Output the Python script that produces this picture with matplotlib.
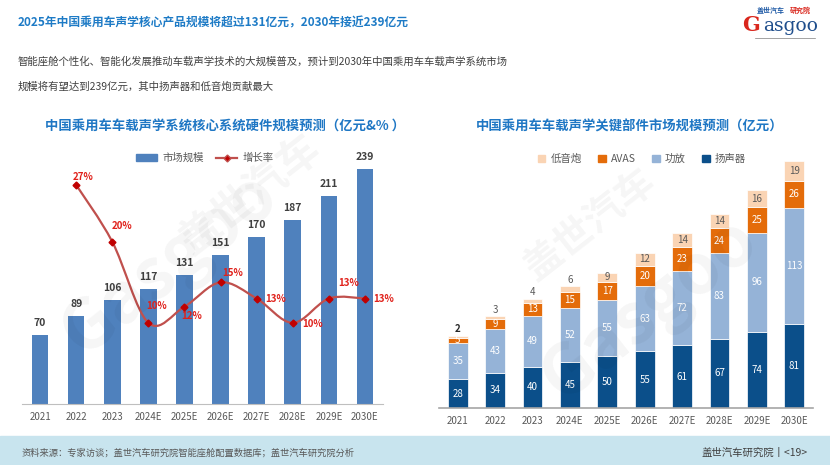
import matplotlib.pyplot as plt
from matplotlib.path import Path
from matplotlib.patches import PathPatch, Patch, Rectangle
from matplotlib.lines import Line2D
import numpy as np

plt.rcParams['font.family'] = ['Noto Sans CJK SC', 'DejaVu Sans']

# data
years = ['2021', '2022', '2023', '2024E', '2025E', '2026E', '2027E', '2028E', '2029E', '2030E']
market = [70, 89, 106, 117, 131, 151, 170, 187, 211, 239]
growth_years = years[1:]
growth = [27, 20, 10, 12, 15, 13, 10, 13, 13]

speaker = [28, 34, 40, 45, 50, 55, 61, 67, 74, 81]
amp = [35, 43, 49, 52, 55, 63, 72, 83, 96, 113]
avas = [5, 9, 13, 15, 17, 20, 23, 24, 25, 26]
subwoofer = [2, 3, 4, 6, 9, 12, 14, 14, 16, 19]

W, H = 830, 465
def fx(x):
    return x / W
def fy(y):
    return 1 - y / H

fig = plt.figure(figsize=(8.3, 4.65), dpi=100)
fig.patch.set_facecolor('white')

# watermarks
for (x, y, s, fs) in [(170, 265, 'Gasgoo', 50), (250, 195, '盖世汽车', 30),
                      (650, 310, 'Gasgoo', 50), (590, 225, '盖世汽车', 28)]:
    fig.text(fx(x), fy(y), s, fontsize=fs, color='#000000', alpha=0.04,
             rotation=38, ha='center', va='center', fontweight='bold', zorder=0)

# header
fig.text(fx(18), fy(23), '2025年中国乘用车声学核心产品规模将超过131亿元，2030年接近239亿元',
         fontsize=8.5, color='#1E7BC6', fontweight='bold', va='center')
fig.text(fx(18), fy(62), '智能座舱个性化、智能化发展推动车载声学技术的大规模普及，预计到2030年中国乘用车车载声学系统市场',
         fontsize=7.5, color='#404040', va='center')
fig.text(fx(18), fy(87), '规模将有望达到239亿元，其中扬声器和低音炮贡献最大',
         fontsize=7.5, color='#404040', va='center')

# logo
fig.text(fx(757), fy(10), '盖世汽车', fontsize=5, color='#1F5AA6', fontweight='bold', va='center')
fig.text(fx(790), fy(10), '研究院', fontsize=5, color='#D9261C', fontweight='bold', va='center')
fig.text(fx(742), fy(25), 'G', fontsize=15, color='#D9261C', fontweight='bold', va='center',
         family='DejaVu Serif')
fig.text(fx(763), fy(26), 'asgoo', fontsize=13.5, color='#1F4E8C', va='center', family='DejaVu Serif')
fig.add_artist(Line2D([fx(755), fx(815)], [fy(38), fy(38)], color='#7F7F7F', lw=0.5))

# chart titles
fig.text(fx(225), fy(127), '中国乘用车车载声学系统核心系统硬件规模预测（亿元&% ）',
         fontsize=9.6, color='#1F77C4', fontweight='bold', ha='center', va='center')
fig.text(fx(630), fy(127), '中国乘用车车载声学关键部件市场规模预测（亿元）',
         fontsize=9.6, color='#1F77C4', fontweight='bold', ha='center', va='center')

# left chart
ax = fig.add_axes([fx(22), 1 - 404 / H, 361 / W, 254 / H])
x = np.arange(len(years))
ax.bar(x, market, width=0.46, color='#4F81BD', zorder=2)
for xi, v in zip(x, market):
    ax.annotate(str(v), (xi, v), xytext=(0, 5), textcoords='offset points',
                ha='center', va='bottom', fontsize=7.5, fontweight='bold', color='#404040')
ax.set_xlim(-0.5, 9.5)
ax.set_ylim(0, 258)
ax.set_xticks(x)
ax.set_xticklabels(years, fontsize=7, color='#595959')
ax.tick_params(axis='x', length=0, pad=6)
ax.set_yticks([])
for s in ['top', 'left', 'right']:
    ax.spines[s].set_visible(False)
ax.spines['bottom'].set_color('#BFBFBF')
ax.set_facecolor('none')

ax2 = ax.twinx()
ax2.set_ylim(0, 31.3)
ax2.set_yticks([])
for s in ['top', 'left', 'right', 'bottom']:
    ax2.spines[s].set_visible(False)

gx = np.arange(1, len(years))
pts = np.column_stack([gx, growth]).astype(float)
# smoothed line through the points (catmull-rom -> bezier)
ext = np.vstack([pts[0], pts, pts[-1]])
verts = [tuple(pts[0])]
codes = [Path.MOVETO]
for i in range(1, len(ext) - 2):
    p0, p1, p2, p3 = ext[i - 1], ext[i], ext[i + 1], ext[i + 2]
    c1 = p1 + (p2 - p0) / 6
    c2 = p2 - (p3 - p1) / 6
    verts += [tuple(c1), tuple(c2), tuple(p2)]
    codes += [Path.CURVE4] * 3
ax2.add_patch(PathPatch(Path(verts, codes), fill=False, edgecolor='#C0504D', lw=1.6, zorder=3))
ax2.plot(gx, growth, ls='none', marker='D', ms=3.5, color='#C00000', zorder=4)

offsets = [(5, 6), (7, 11.5), (6, 12), (5, -6.5), (9, 6.5), (13.5, 0), (14, -0.5), (14, 11), (13.5, 0)]
for xi, g, off in zip(gx, growth, offsets):
    ax2.annotate(f'{g}%', (xi, g), xytext=off, textcoords='offset points',
                 ha='center', va='center', fontsize=7, fontweight='bold', color='#E0211B')

handles = [Patch(color='#4F81BD'),
           Line2D([], [], color='#C0504D', lw=1.6, marker='D', ms=3.5, markerfacecolor='#C00000')]
fig.legend(handles, ['市场规模', '增长率'], loc='center', bbox_to_anchor=(fx(205), fy(158)),
           ncol=2, frameon=False, fontsize=7.5, handlelength=2.0, handleheight=0.6,
           columnspacing=1.2, handletextpad=0.5, labelcolor='#595959')

# right chart
bx = fig.add_axes([fx(439), 1 - 408 / H, 374 / W, 258 / H])
bx.set_facecolor('none')
colors = {'speaker': '#0B4F8A', 'amp': '#95B3D7', 'avas': '#E46C0A', 'sub': '#FAD4B4'}
bottom = np.zeros(len(years))
series = [(speaker, colors['speaker']), (amp, colors['amp']), (avas, colors['avas']), (subwoofer, colors['sub'])]
for k, (vals, c) in enumerate(series):
    bx.bar(x, vals, width=0.53, bottom=bottom, color=c, edgecolor='white', lw=0.5, zorder=2)
    for i, (b0, v) in enumerate(zip(bottom, vals)):
        if k == 3:
            if i < 4:
                bx.annotate(str(v), (i, b0 + v), xytext=(0, 1), textcoords='offset points',
                            ha='center', va='bottom', fontsize=7,
                            color='#262626' if i == 0 else '#595959',
                            fontweight='bold' if i == 0 else 'normal')
            else:
                bx.text(i, b0 + v / 2, str(v), ha='center', va='center', fontsize=7, color='#595959')
        else:
            bx.text(i, b0 + v / 2, str(v), ha='center', va='center', fontsize=7, color='white')
    bottom = bottom + np.array(vals)
bx.set_xlim(-0.5, 9.5)
bx.set_ylim(0, 250)
bx.set_xticks(x)
bx.set_xticklabels(years, fontsize=7, color='#595959')
bx.tick_params(axis='x', length=0, pad=6)
bx.set_yticks([])
for s in ['top', 'left', 'right']:
    bx.spines[s].set_visible(False)
bx.spines['bottom'].set_color('#A6A6A6')
bx.spines['bottom'].set_linewidth(1.2)

rhandles = [Patch(color=colors['sub']), Patch(color=colors['avas']),
            Patch(color=colors['amp']), Patch(color=colors['speaker'])]
fig.legend(rhandles, ['低音炮', 'AVAS', '功放', '扬声器'], loc='center',
           bbox_to_anchor=(fx(642), fy(159)), ncol=4, frameon=False, fontsize=7.5,
           handlelength=0.7, handleheight=0.7, columnspacing=1.6, handletextpad=0.5,
           labelcolor='#595959')

# footer
fig.add_artist(Rectangle((0, 0), 1, 29 / H, transform=fig.transFigure, color='#C8E4EE', zorder=0))
fig.text(fx(22), fy(453), '资料来源：专家访谈；盖世汽车研究院智能座舱配置数据库；盖世汽车研究院分析',
         fontsize=6.7, color='#595959', va='center')
fig.text(fx(808), fy(453), '盖世汽车研究院丨<19>', fontsize=7.5, color='#404040', va='center', ha='right')

fig.savefig('out.png', dpi=100)
